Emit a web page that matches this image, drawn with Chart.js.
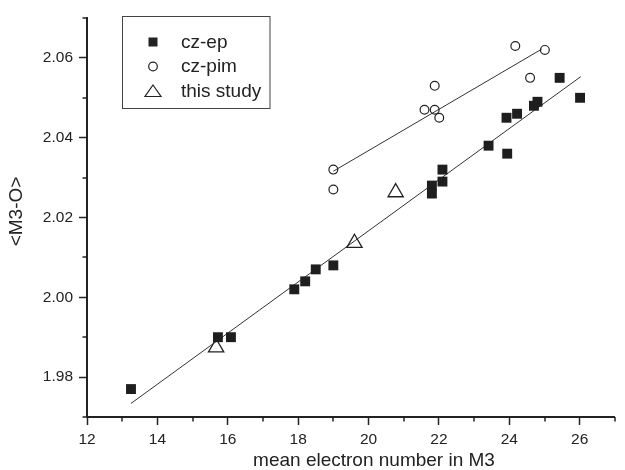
<!DOCTYPE html>
<html>
<head>
<meta charset="utf-8">
<script src="https://cdn.jsdelivr.net/npm/chart.js@4.4.1/dist/chart.umd.min.js"></script>
<style>
    html, body { margin: 0; padding: 0; background: #fff; overflow: hidden; }
    #wrap { width: 625px; height: 470px; }
</style>
</head>
<body>
<div id="wrap"><canvas id="chart" width="625" height="470"></canvas></div>
<script>
// cz-ep (filled squares)
const epX = [13.25, 15.72, 16.09, 17.89, 18.20, 18.50, 19.00, 21.80, 21.80, 22.10, 22.10, 23.41, 23.94, 23.92, 24.22, 24.70, 24.80, 25.43, 26.01];
const epY = [1.977, 1.990, 1.990, 2.002, 2.004, 2.007, 2.008, 2.028, 2.026, 2.032, 2.029, 2.038, 2.036, 2.045, 2.046, 2.048, 2.049, 2.055, 2.050];

// cz-pim (open circles)
const pimX = [19.00, 19.00, 21.59, 21.88, 21.88, 22.01, 24.17, 24.59, 25.01];
const pimY = [2.032, 2.027, 2.047, 2.047, 2.053, 2.045, 2.063, 2.055, 2.062];

// this study (open triangles)
const studyX = [15.67, 19.60, 20.77];
const studyY = [1.9874, 2.0136, 2.0263];

// regression lines (end points)
const epFitX = [13.25, 26.03];
const epFitY = [1.9734, 2.0553];
const pimFitX = [19.00, 24.92];
const pimFitY = [2.0316, 2.0622];

// axes
const xTicks = [12, 14, 16, 18, 20, 22, 24, 26];
const xMinor = [13, 15, 17, 19, 21, 23, 25, 27];
const yTicks = [1.98, 2.00, 2.02, 2.04, 2.06];
const yMinor = [1.97, 1.99, 2.01, 2.03, 2.05, 2.07];
const xTitle = 'mean electron number in M3';
const yTitle = '<M3-O>';

const FONT = '"Liberation Sans", Arial, Helvetica, sans-serif';
const INK = '#222';

function pts(xs, ys) {
    return xs.map((x, i) => ({ x: x, y: ys[i] }));
}

// small ticks between the labelled ones
const minorTicks = {
    id: 'minorTicks',
    afterDraw(chart) {
        const { ctx, chartArea, scales } = chart;
        ctx.save();
        ctx.strokeStyle = INK;
        ctx.lineWidth = 1.5;
        ctx.beginPath();
        xMinor.forEach(v => {
            const px = Math.round(scales.x.getPixelForValue(v));
            ctx.moveTo(px, chartArea.bottom);
            ctx.lineTo(px, chartArea.bottom + 4.5);
        });
        yMinor.forEach(v => {
            const py = Math.round(scales.y.getPixelForValue(v));
            ctx.moveTo(chartArea.left, py);
            ctx.lineTo(chartArea.left - 4.5, py);
        });
        ctx.stroke();
        ctx.restore();
    }
};

// axis titles (placed like the original, a bit off the axis centre)
const axisTitles = {
    id: 'axisTitles',
    afterDraw(chart) {
        const ctx = chart.ctx;
        ctx.save();
        ctx.fillStyle = INK;
        ctx.font = '19px ' + FONT;
        ctx.textAlign = 'center';
        ctx.textBaseline = 'alphabetic';
        ctx.fillText(xTitle, 374, 466);
        ctx.translate(17, 211.5);
        ctx.rotate(-Math.PI / 2);
        ctx.textBaseline = 'middle';
        ctx.fillText(yTitle, 0, 0);
        ctx.restore();
    }
};

// boxed legend inside the plot, upper left
const boxLegend = {
    id: 'boxLegend',
    afterDraw(chart) {
        const ctx = chart.ctx;
        const items = chart.data.datasets.filter(d => d.label);
        ctx.save();
        ctx.strokeStyle = '#444';
        ctx.lineWidth = 1;
        ctx.strokeRect(122.5, 16.5, 147.5, 92);
        ctx.font = '19px ' + FONT;
        ctx.fillStyle = INK;
        ctx.textAlign = 'left';
        ctx.textBaseline = 'alphabetic';
        items.forEach((d, i) => {
            const cy = 42 + i * 24.5;
            const sx = 153;
            ctx.strokeStyle = INK;
            ctx.fillStyle = INK;
            ctx.lineWidth = 1.2;
            ctx.beginPath();
            if (d.pointStyle === 'rect') {
                ctx.fillRect(sx - 4.5, cy - 4.5, 9, 9);
            } else if (d.pointStyle === 'circle') {
                ctx.arc(sx, cy, 4.3, 0, Math.PI * 2);
                ctx.stroke();
            } else {
                ctx.moveTo(sx, cy - 6);
                ctx.lineTo(sx + 8, cy + 5.5);
                ctx.lineTo(sx - 8, cy + 5.5);
                ctx.closePath();
                ctx.stroke();
            }
            ctx.fillText(d.label, 181, cy + 5.5);
        });
        ctx.restore();
    }
};

new Chart(document.getElementById('chart'), {
    type: 'scatter',
    data: {
        datasets: [{
            label: 'cz-ep',
            data: pts(epX, epY),
            pointStyle: 'rect',
            pointRadius: 7,
            backgroundColor: '#1e1e1e',
            borderColor: '#1e1e1e',
            borderWidth: 0
        }, {
            label: 'cz-pim',
            data: pts(pimX, pimY),
            pointStyle: 'circle',
            pointRadius: 4.4,
            backgroundColor: 'rgba(0,0,0,0)',
            borderColor: INK,
            borderWidth: 1.2
        }, {
            label: 'this study',
            data: pts(studyX, studyY),
            pointStyle: 'triangle',
            pointRadius: 8.8,
            backgroundColor: 'rgba(0,0,0,0)',
            borderColor: INK,
            borderWidth: 1.3
        }, {
            data: pts(epFitX, epFitY),
            showLine: true,
            pointRadius: 0,
            borderColor: '#333',
            borderWidth: 1
        }, {
            data: pts(pimFitX, pimFitY),
            showLine: true,
            pointRadius: 0,
            borderColor: '#333',
            borderWidth: 1
        }]
    },
    options: {
        responsive: false,
        animation: false,
        events: [],
        layout: { padding: { top: 18, right: 0, bottom: 0, left: 0 } },
        plugins: {
            legend: { display: false },
            tooltip: { enabled: false }
        },
        scales: {
            x: {
                type: 'linear',
                min: 12,
                max: 27,
                afterBuildTicks: s => { s.ticks = xTicks.map(v => ({ value: v })); },
                afterFit: s => { s.height = 53; },
                border: { display: true, color: INK, width: 2 },
                grid: { drawOnChartArea: false, drawTicks: true, tickLength: 8, tickWidth: 1.5, tickColor: INK },
                ticks: {
                    autoSkip: false,
                    maxRotation: 0,
                    padding: 5.5,
                    color: INK,
                    font: { family: FONT, size: 15.5 },
                    callback: v => String(v)
                }
            },
            y: {
                type: 'linear',
                min: 1.97,
                max: 2.07,
                afterBuildTicks: s => { s.ticks = yTicks.map(v => ({ value: v })); },
                afterFit: s => { s.width = 87; },
                border: { display: true, color: INK, width: 2 },
                grid: { drawOnChartArea: false, drawTicks: true, tickLength: 8, tickWidth: 1.5, tickColor: INK },
                ticks: {
                    autoSkip: false,
                    padding: 6,
                    color: INK,
                    font: { family: FONT, size: 15.5 },
                    callback: v => v.toFixed(2)
                }
            }
        }
    },
    plugins: [minorTicks, axisTitles, boxLegend]
});
</script>
</body>
</html>
